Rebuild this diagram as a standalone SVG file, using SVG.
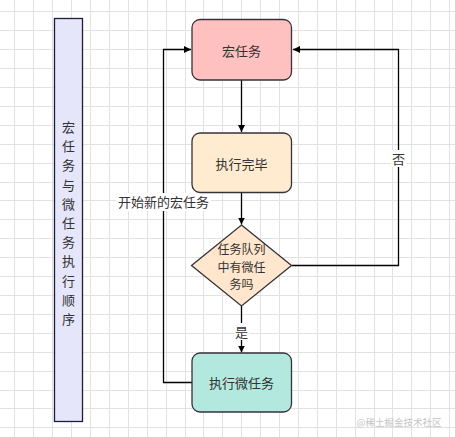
<svg xmlns="http://www.w3.org/2000/svg" width="455" height="437" viewBox="0 0 455 437">
<style>
.grid{stroke:#e2e2e2;stroke-width:1;fill:none}
.box{stroke:#36323a;stroke-width:1.3}
.t{font-family:"Noto Sans CJK SC","Noto Sans",sans-serif;font-size:13px;fill:#333;text-anchor:middle;dominant-baseline:central}
.d{font-size:12px}
.edge{stroke:#000;stroke-width:1.3;fill:none}
.lbg{fill:#fff}
</style>
<defs>
<marker id="arr" markerWidth="8" markerHeight="8" refX="7" refY="4" orient="auto" markerUnits="userSpaceOnUse">
<path d="M0,0.5 L7,4 L0,7.5 Z" fill="#000"/>
</marker>
</defs>
<rect width="455" height="437" fill="#fff"/>
<path class="grid" d="M14.5 0V437M33.5 0V437M52.5 0V437M71.5 0V437M90.5 0V437M109.5 0V437M128.5 0V437M147.5 0V437M166.5 0V437M185.5 0V437M203.5 0V437M222.5 0V437M241.5 0V437M260.5 0V437M279.5 0V437M298.5 0V437M317.5 0V437M336.5 0V437M355.5 0V437M374.5 0V437M392.5 0V437M411.5 0V437M430.5 0V437M449.5 0V437
M0 11.5H455M0 30.5H455M0 49.5H455M0 68.5H455M0 87.5H455M0 106.5H455M0 125.5H455M0 144.5H455M0 163.5H455M0 182.5H455M0 200.5H455M0 219.5H455M0 238.5H455M0 257.5H455M0 276.5H455M0 295.5H455M0 314.5H455M0 333.5H455M0 352.5H455M0 371.5H455M0 390.5H455M0 408.5H455M0 427.5H455"/>

<g id="title">
<rect x="54.5" y="18.5" width="28" height="403" fill="#e6e6fb" stroke="#1c1c3c" stroke-width="1.3"/>
<text class="t">
<tspan x="68.5" y="126">宏</tspan><tspan x="68.5" y="145.2">任</tspan><tspan x="68.5" y="164.4">务</tspan><tspan x="68.5" y="183.6">与</tspan><tspan x="68.5" y="202.8">微</tspan><tspan x="68.5" y="222">任</tspan><tspan x="68.5" y="241.2">务</tspan><tspan x="68.5" y="260.4">执</tspan><tspan x="68.5" y="279.6">行</tspan><tspan x="68.5" y="298.8">顺</tspan><tspan x="68.5" y="318">序</tspan>
</text>
</g>

<g id="connectors">
<path class="edge" d="M241.5 80V132" marker-end="url(#arr)"/>
<path class="edge" d="M241.5 193V224.5" marker-end="url(#arr)"/>
<path class="edge" d="M241.5 306V352.5" marker-end="url(#arr)"/>
<path class="edge" d="M291.5 265.5H398.5V49.5H293" marker-end="url(#arr)"/>
<path class="edge" d="M192 382.5H163.5V49.5H191" marker-end="url(#arr)"/>
<rect class="lbg" x="116" y="193" width="95" height="18"/>
<text class="t" x="163.5" y="201.5">开始新的宏任务</text>
<rect class="lbg" x="391" y="150" width="15" height="17"/>
<text class="t" x="398.5" y="158">否</text>
<rect class="lbg" x="234" y="323" width="15" height="17"/>
<text class="t" x="241.5" y="331.5">是</text>
</g>

<g id="macro">
<rect class="box" x="192" y="19.5" width="99.5" height="60.5" rx="8" fill="#ffc0c0"/>
<text class="t" x="241.5" y="50">宏任务</text>
</g>

<g id="done">
<rect class="box" x="192" y="133" width="99.5" height="59.5" rx="8" fill="#ffebcf"/>
<text class="t" x="241.5" y="163">执行完毕</text>
</g>

<g id="decision">
<path class="box" d="M241.5 225L291.5 265.5L241.5 306L191.5 265.5Z" fill="#ffe6cc"/>
<text class="t d"><tspan x="241.5" y="248">任务队列</tspan><tspan x="241.5" y="265.5">中有微任</tspan><tspan x="241.5" y="283">务吗</tspan></text>
</g>

<g id="micro">
<rect class="box" x="192" y="353" width="99.5" height="59" rx="8" fill="#b2e8de"/>
<text class="t" x="241.5" y="382.5">执行微任务</text>
</g>

<text x="399" y="422" font-family="'Noto Sans CJK SC',sans-serif" font-size="9.5" fill="#c4c4c4" text-anchor="middle" dominant-baseline="central">@稀土掘金技术社区</text>
</svg>
